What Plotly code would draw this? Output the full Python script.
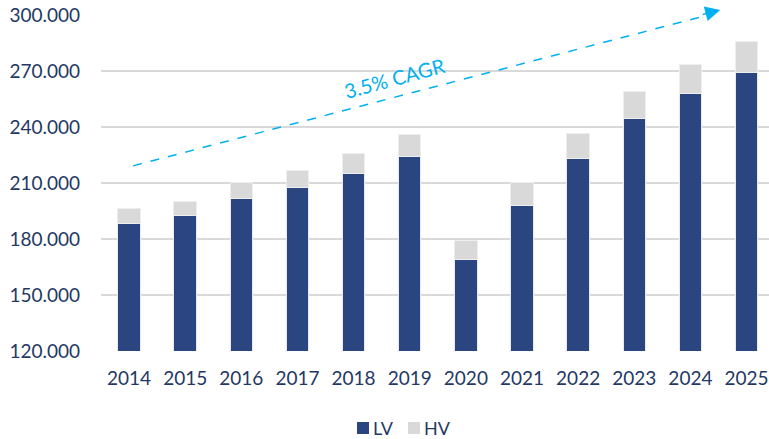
import plotly.graph_objects as go

years = ["2014", "2015", "2016", "2017", "2018", "2019", "2020", "2021", "2022", "2023", "2024", "2025"]
lv = [188200, 192500, 202000, 207700, 215500, 224600, 169300, 198200, 223400, 245000, 258000, 269600]
total = [196400, 200300, 210400, 216900, 225900, 236100, 179500, 210400, 236800, 259300, 273600, 286000]
hv = [t - l for t, l in zip(total, lv)]
y_ticks = [120000, 150000, 180000, 210000, 240000, 270000, 300000]
series_names = ["LV", "HV"]
cagr_label = "3.5% CAGR"

navy = "#2B4580"
grey = "#D9D9D9"
txt = "#1F3864"
cyan = "#00B0F0"
font = "Lato"
colors = [navy, grey]

fig = go.Figure()
fig.add_trace(go.Bar(x=years, y=lv, name=series_names[0], marker=dict(color=navy, line=dict(color="#E8EAF0", width=1)),
                     hoverinfo="skip", showlegend=False))
fig.add_trace(go.Bar(x=years, y=hv, name=series_names[1], marker=dict(color=grey, line=dict(color="#EEEEEE", width=1)),
                     hoverinfo="skip", showlegend=False))

# CAGR dashed trend arrow (paper coordinates so it may extend above the plot area)
px0, py0 = 0.048, 0.551
px1, py1 = 0.927, 1.015
fig.add_shape(type="line", xref="paper", yref="paper", x0=px0, y0=py0, x1=px1 - 0.02, y1=py1 - 0.016,
              line=dict(color=cyan, width=1.5, dash="dash"), layer="above")
fig.add_annotation(xref="paper", yref="paper", x=px1, y=py1, ax=-19, ay=5,
                   showarrow=True, arrowhead=2, arrowsize=2, arrowwidth=1.5, arrowcolor=cyan, text="")
fig.add_annotation(xref="paper", yref="paper", x=(394 - 101) / 668, y=(351 - 78) / 336, text=cagr_label,
                   xanchor="center", yanchor="middle",
                   showarrow=False, textangle=-15, font=dict(family=font, size=20, color=cyan))

# legend (square key + label), placed below the plot
leg_sq_x = [(357 - 101) / 668, (408 - 101) / 668]
leg_tx_x = [(373 - 101) / 668, (424 - 101) / 668]
sq_w = 12 / 668
sq_h = 12 / 336
leg_y = (351 - 428) / 336
for name, col, sx, tx in zip(series_names, colors, leg_sq_x, leg_tx_x):
    fig.add_shape(type="rect", xref="paper", yref="paper", x0=sx, x1=sx + sq_w,
                  y0=leg_y - sq_h / 2, y1=leg_y + sq_h / 2, fillcolor=col, line=dict(width=0))
    fig.add_annotation(xref="paper", yref="paper", x=tx, y=leg_y, text=name, showarrow=False,
                       xanchor="left", yanchor="middle", xshift=-2, font=dict(family=font, size=18, color=txt))

fig.update_layout(
    width=769, height=439,
    margin=dict(l=101, r=0, t=15, b=88),
    barmode="stack", bargap=0.6,
    separators=",.",
    plot_bgcolor="white", paper_bgcolor="white",
    font=dict(family=font, color=txt, size=19),
    showlegend=False,
    xaxis=dict(type="category", range=[-0.5, 11.4], showgrid=False, showline=False, ticks="",
               ticklabelstandoff=14, automargin=False, tickfont=dict(size=19, color=txt)),
    yaxis=dict(range=[120000, 300300], tickvals=y_ticks, tickformat=",d", showgrid=True,
               gridcolor="#D9D9D9", gridwidth=1.5, zeroline=False, showline=False, ticks="",
               ticklabelstandoff=20, automargin=False, tickfont=dict(size=19, color=txt)),
)

fig.write_html("out.html", config={"displayModeBar": False},
               post_script="document.body.style.margin='0';document.body.style.overflow='hidden';")
